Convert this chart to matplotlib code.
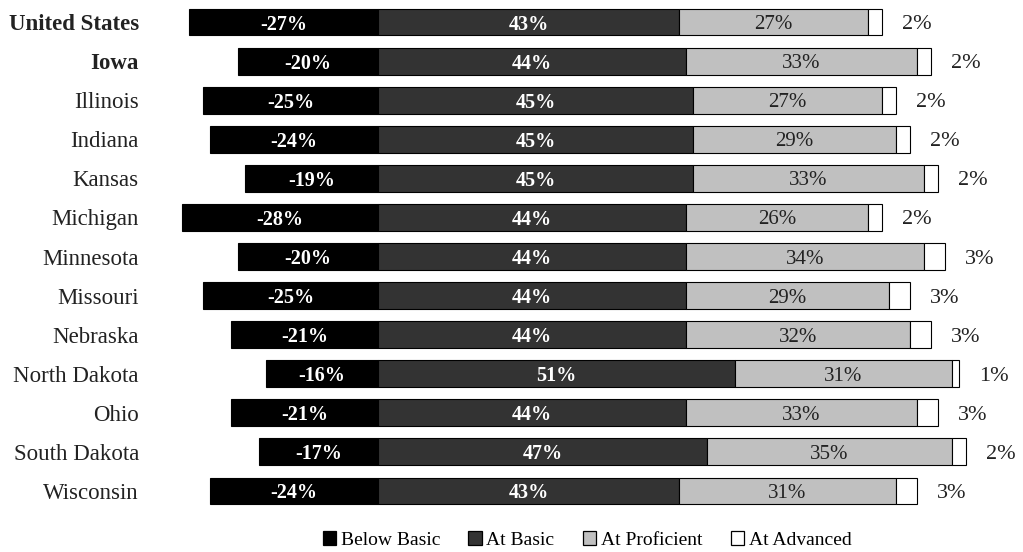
import matplotlib
matplotlib.use("Agg")
import matplotlib.pyplot as plt
from matplotlib.patches import Patch
import numpy as np

plt.rcParams['font.family'] = ['Liberation Serif', 'DejaVu Serif']

states = ["United States", "Iowa", "Illinois", "Indiana", "Kansas", "Michigan",
          "Minnesota", "Missouri", "Nebraska", "North Dakota", "Ohio",
          "South Dakota", "Wisconsin"]
below_basic = [27, 20, 25, 24, 19, 28, 20, 25, 21, 16, 21, 17, 24]
at_basic = [43, 44, 45, 45, 45, 44, 44, 44, 44, 51, 44, 47, 43]
at_proficient = [27, 33, 27, 29, 33, 26, 34, 29, 32, 31, 33, 35, 31]
at_advanced = [2, 2, 2, 2, 2, 2, 3, 3, 3, 1, 3, 2, 3]
bold_rows = ["United States", "Iowa"]

colors = ["#000000", "#333333", "#c0c0c0", "#ffffff"]
series_names = ["Below Basic", "At Basic", "At Proficient", "At Advanced"]

W, H = 1023, 552
fig = plt.figure(figsize=(W / 100, H / 100), dpi=100)
# axes spans px 150..1015 horizontally, 0..510 vertically
ax = fig.add_axes([150 / W, 1 - 510 / H, (1015 - 150) / W, 510 / H])

y = np.arange(len(states))
bb = -np.array(below_basic, dtype=float)
ab = np.array(at_basic, dtype=float)
ap = np.array(at_proficient, dtype=float)
aa = np.array(at_advanced, dtype=float)
h = 0.69
kw = dict(height=h, edgecolor="black", linewidth=0.8)
ax.barh(y, bb, left=0, color=colors[0], **kw)
ax.barh(y, ab, left=0, color=colors[1], **kw)
ax.barh(y, ap, left=ab, color=colors[2], **kw)
ax.barh(y, aa, left=ab + ap, color=colors[3], **kw)

fs = 14.5
for i in range(len(states)):
    ax.text(bb[i] / 2, y[i], f"-{below_basic[i]}%", ha="center",
            va="center_baseline", color="white", fontweight="bold", fontsize=fs)
    ax.text(ab[i] / 2, y[i], f"{at_basic[i]}%", ha="center",
            va="center_baseline", color="white", fontweight="bold", fontsize=fs)
    ax.text(ab[i] + ap[i] / 2, y[i], f"{at_proficient[i]}%", ha="center",
            va="center_baseline", color="#222222", fontsize=15)
    ax.text(ab[i] + ap[i] + aa[i] + 5.0, y[i], f"{at_advanced[i]}%",
            ha="center", va="center_baseline", color="#222222", fontsize=16)

ax.set_xlim(-228 / 7.0, 637 / 7.0)
ax.set_ylim(12 + 19 / 39.08, -22 / 39.08)
ax.set_yticks(y)
ax.set_yticklabels(states, fontsize=16.5)
for lbl in ax.get_yticklabels():
    if lbl.get_text() in bold_rows:
        lbl.set_fontweight("bold")
ax.tick_params(axis="y", length=0, pad=8, colors="#222222")
ax.set_xticks([])
for s in ax.spines.values():
    s.set_visible(False)

handles = [Patch(facecolor=c, edgecolor="black", linewidth=0.9, label=n)
           for c, n in zip(colors, series_names)]
fig.legend(handles=handles, loc="center", bbox_to_anchor=(587 / W, 1 - 540 / H),
           ncol=4, frameon=False, fontsize=14, handlelength=0.68,
           handleheight=0.68, handletextpad=0.25, columnspacing=1.45)

fig.savefig("out.png", dpi=100)
